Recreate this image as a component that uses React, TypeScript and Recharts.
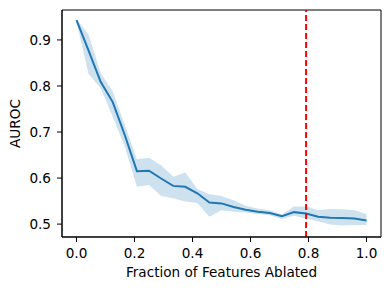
import React from 'react';
import {
    ComposedChart,
    Area,
    Line,
    XAxis,
    YAxis,
    ReferenceLine,
    ReferenceArea
} from 'recharts';

// fraction of features ablated (25 steps)
const fractions = [
    0, 0.0417, 0.0833, 0.125, 0.1667, 0.2083, 0.25, 0.2917, 0.3333, 0.375,
    0.4167, 0.4583, 0.5, 0.5417, 0.5833, 0.625, 0.6667, 0.7083, 0.75, 0.7917,
    0.8333, 0.875, 0.9167, 0.9583, 1
];
const meanAuroc = [
    0.943, 0.877, 0.809, 0.765, 0.693, 0.615, 0.616, 0.599, 0.583, 0.581,
    0.567, 0.547, 0.545, 0.537, 0.531, 0.527, 0.524, 0.517, 0.526, 0.523,
    0.516, 0.514, 0.513, 0.512, 0.508
];
const lowerAuroc = [
    0.939, 0.826, 0.795, 0.733, 0.668, 0.581, 0.585, 0.561, 0.556, 0.549,
    0.546, 0.516, 0.530, 0.527, 0.525, 0.522, 0.519, 0.511, 0.518, 0.512,
    0.506, 0.499, 0.497, 0.498, 0.498
];
const upperAuroc = [
    0.946, 0.911, 0.828, 0.788, 0.715, 0.641, 0.644, 0.628, 0.603, 0.612,
    0.576, 0.565, 0.561, 0.552, 0.540, 0.534, 0.530, 0.521, 0.538, 0.538,
    0.530, 0.533, 0.532, 0.530, 0.522
];
const xTicks = [0, 0.2, 0.4, 0.6, 0.8, 1.0];
const yTicks = [0.5, 0.6, 0.7, 0.8, 0.9];
const xDomain = [-0.05, 1.05];
const yDomain = [0.472, 0.965];
const cutoff = 0.7917;

const data = fractions.map((f, i) => ({
    fraction: f,
    mean: meanAuroc[i],
    band: [lowerAuroc[i], upperAuroc[i]]
}));

const font = '"DejaVu Sans", sans-serif';
const fontSize = 13.6;
const tickStyle = { fontSize, fill: '#000', fontFamily: font };
const blue = '#1f77b4';

function XLabel(props: any) {
    const vb = props.viewBox;
    return (
        <text
            x={vb.x + vb.width / 2}
            y={vb.y + vb.height - 13}
            textAnchor="middle"
            fontSize={fontSize}
            fontFamily={font}
            fill="#000"
        >
            Fraction of Features Ablated
        </text>
    );
}

function YLabel(props: any) {
    const vb = props.viewBox;
    const x = vb.x + 20;
    const y = vb.y + vb.height / 2;
    return (
        <text
            x={x}
            y={y}
            transform={`rotate(-90, ${x}, ${y})`}
            textAnchor="middle"
            fontSize={fontSize}
            fontFamily={font}
            fill="#000"
        >
            AUROC
        </text>
    );
}

export default function App() {
    return (
        <div style={{ position: 'absolute', left: 0, top: 0, width: 390, height: 290, background: '#fff' }}>
            <ComposedChart
                width={390}
                height={290}
                data={data}
                margin={{ top: 10, right: 9, left: 0, bottom: 0 }}
            >
                <XAxis
                    dataKey="fraction"
                    type="number"
                    domain={xDomain}
                    ticks={xTicks}
                    allowDataOverflow
                    tickFormatter={(v: number) => v.toFixed(1)}
                    tick={tickStyle}
                    tickSize={5}
                    tickMargin={6}
                    height={53}
                    stroke="#000"
                    label={{ content: XLabel }}
                />
                <YAxis
                    type="number"
                    domain={yDomain}
                    ticks={yTicks}
                    allowDataOverflow
                    tickFormatter={(v: number) => v.toFixed(1)}
                    tick={tickStyle}
                    tickSize={5}
                    tickMargin={6}
                    width={62}
                    stroke="#000"
                    label={{ content: YLabel }}
                />
                {/* plot frame */}
                <ReferenceArea
                    x1={xDomain[0]}
                    x2={xDomain[1]}
                    y1={yDomain[0]}
                    y2={yDomain[1]}
                    fill="none"
                    stroke="#000"
                    strokeWidth={1}
                    ifOverflow="visible"
                />
                <Area
                    type="linear"
                    dataKey="band"
                    stroke="none"
                    fill={blue}
                    fillOpacity={0.22}
                    isAnimationActive={false}
                />
                <Line
                    type="linear"
                    dataKey="mean"
                    stroke={blue}
                    strokeWidth={2}
                    dot={false}
                    isAnimationActive={false}
                />
                <ReferenceLine
                    x={cutoff}
                    stroke="#ff0000"
                    strokeWidth={2}
                    strokeDasharray="6 3"
                />
            </ComposedChart>
        </div>
    );
}
